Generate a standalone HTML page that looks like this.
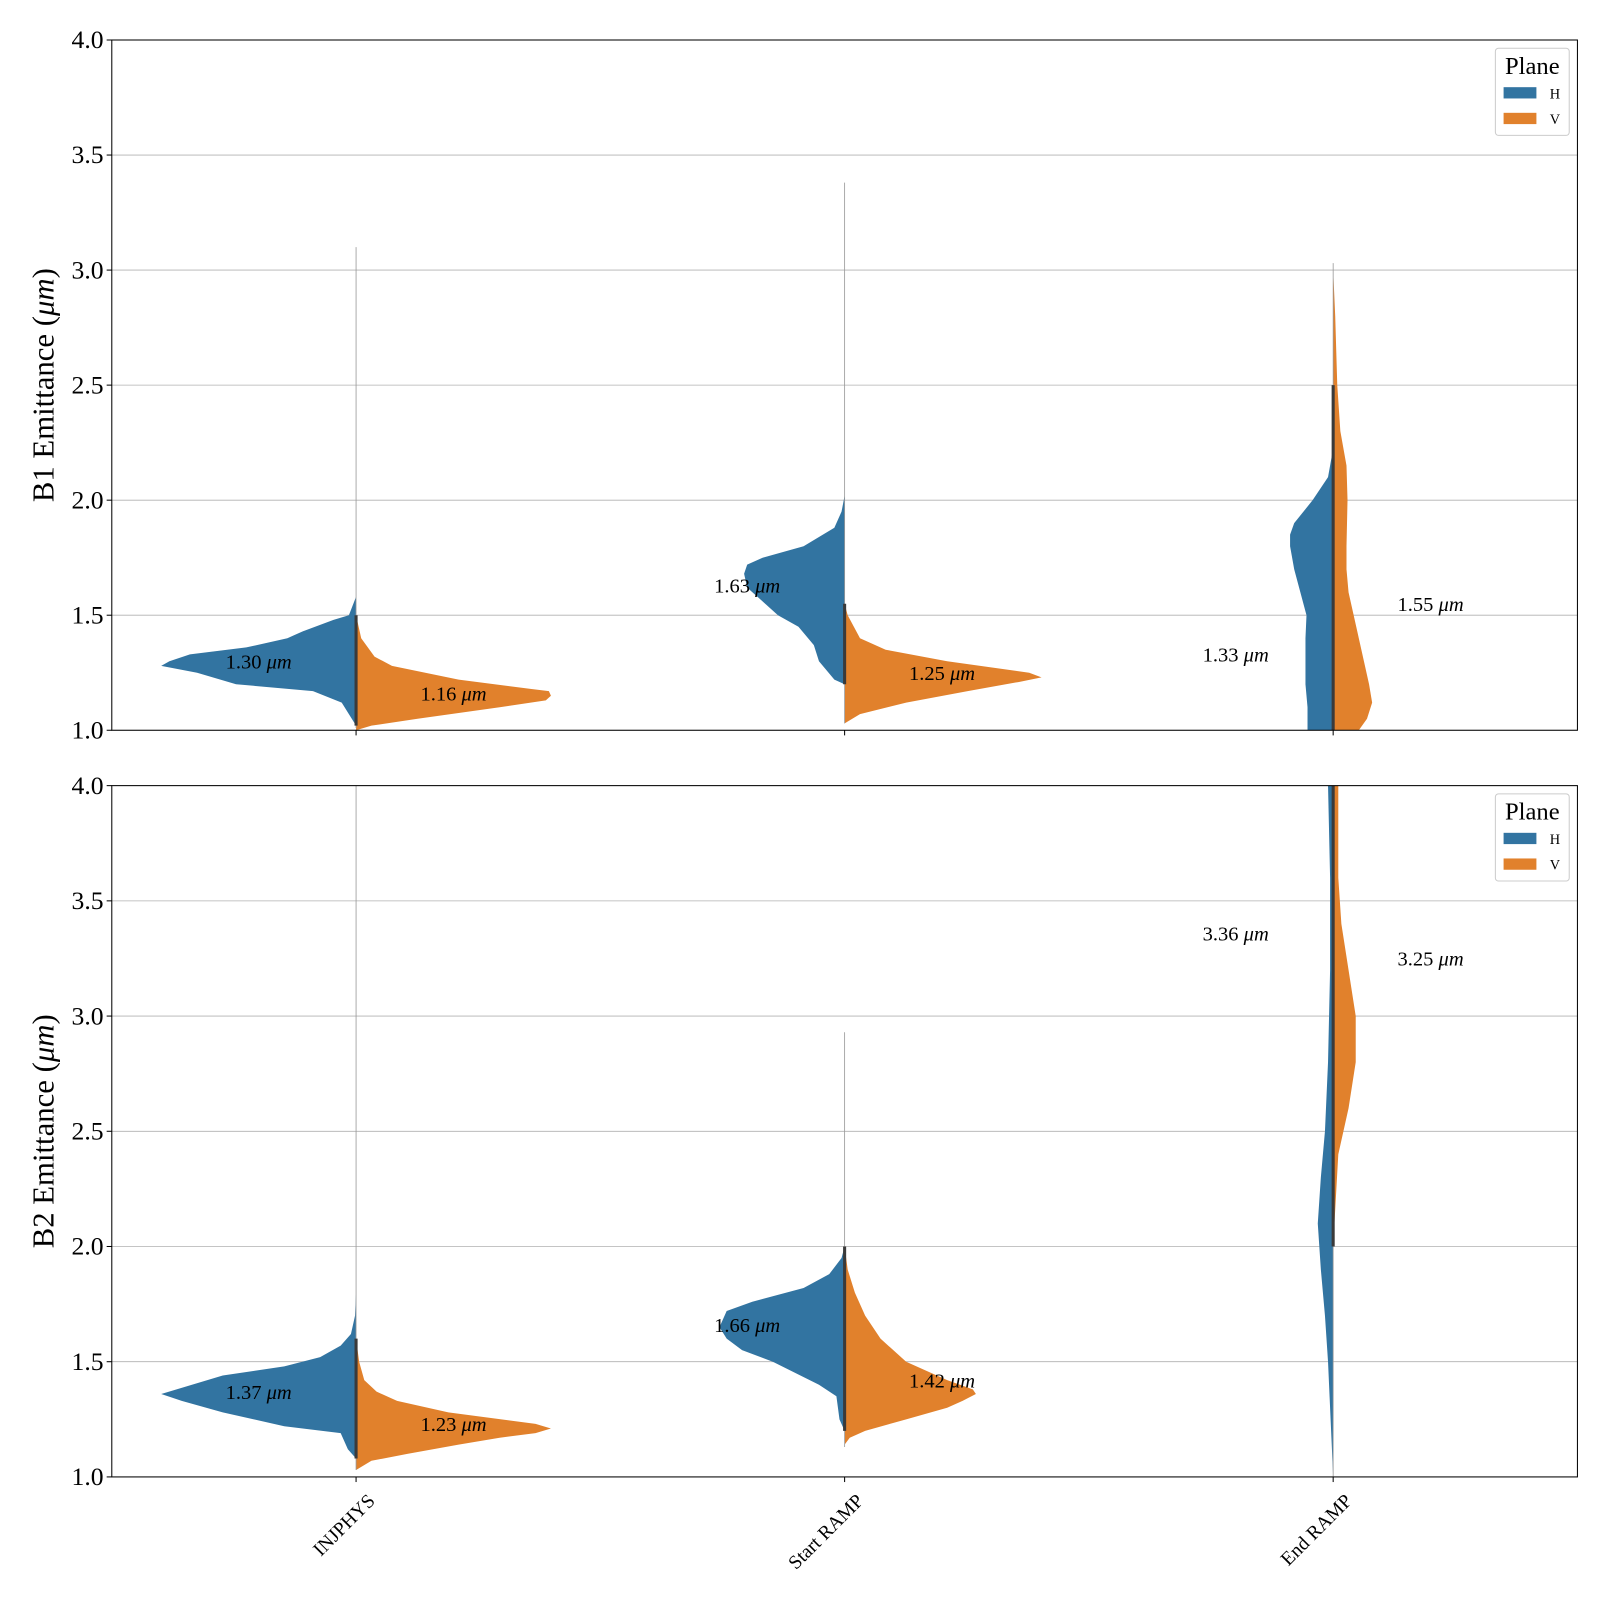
<!DOCTYPE html>
<html><head><meta charset="utf-8"><style>
body{margin:0;background:#fff}
text{font-family:"Liberation Serif",serif;fill:#000}
</style></head><body>
<svg width="1600" height="1600"><g id="c" transform="scale(1.02564)"></g></svg>
<script>
const categories=["INJPHYS","Start RAMP","End RAMP"];
const planes=["H","V"];
// violin profiles: [emittance, half-width(px density)]
const b1H=[[[1.02,0],[1.12,14],[1.17,42],[1.2,117],[1.25,155],[1.28,190],[1.3,182],[1.33,162],[1.36,107],[1.4,67],[1.43,52],[1.48,22],[1.5,7],[1.58,0]],
 [[1.2,0],[1.22,10],[1.3,25],[1.37,30],[1.45,45],[1.5,65],[1.58,85],[1.62,95],[1.68,98],[1.72,95],[1.75,80],[1.8,40],[1.88,10],[1.95,3],[2.02,0]],
 [[1.0,25],[1.1,25],[1.2,27],[1.3,27],[1.4,27],[1.5,26],[1.6,32],[1.7,38],[1.8,42],[1.85,42],[1.9,38],[2.0,20],[2.1,5],[2.2,1],[2.5,0]]];
const b1V=[[[1.0,0],[1.02,15],[1.05,60],[1.1,140],[1.13,185],[1.15,190],[1.17,188],[1.18,170],[1.22,100],[1.28,35],[1.32,18],[1.4,5],[1.5,0]],
 [[1.03,0],[1.07,15],[1.12,60],[1.17,120],[1.21,170],[1.23,192],[1.25,180],[1.3,100],[1.35,40],[1.4,15],[1.5,3],[1.55,0]],
 [[1.0,25],[1.05,33],[1.12,38],[1.2,35],[1.3,30],[1.4,25],[1.5,20],[1.6,15],[1.7,13],[1.8,13],[2.0,14],[2.15,13],[2.3,7],[2.5,4],[2.8,2],[3.0,0]]];
const b2H=[[[1.08,0],[1.12,8],[1.19,15],[1.22,70],[1.28,130],[1.33,170],[1.36,190],[1.4,160],[1.44,130],[1.48,70],[1.52,35],[1.57,15],[1.62,5],[1.7,1],[1.8,0]],
 [[1.2,0],[1.25,5],[1.35,8],[1.4,25],[1.5,70],[1.55,100],[1.6,115],[1.65,122],[1.72,115],[1.76,90],[1.82,40],[1.88,15],[1.95,3],[2.0,0]],
 [[1.0,0],[1.5,5],[1.7,8],[1.9,12],[2.1,15],[2.3,12],[2.5,8],[2.8,5],[3.2,3],[3.6,3],[4.0,5]]];
const b2V=[[[1.03,0],[1.07,15],[1.1,50],[1.14,100],[1.17,140],[1.19,175],[1.21,190],[1.23,175],[1.28,90],[1.33,40],[1.37,20],[1.42,8],[1.5,3],[1.6,0]],
 [[1.14,0],[1.17,5],[1.2,20],[1.25,60],[1.3,100],[1.33,115],[1.36,128],[1.38,125],[1.42,100],[1.5,60],[1.6,35],[1.7,20],[1.8,10],[1.9,3],[2.0,0]],
 [[2.0,0],[2.4,5],[2.6,15],[2.8,22],[3.0,22],[3.2,15],[3.4,8],[3.6,5],[3.8,5],[4.0,5]]];
const b1Max=[3.1,3.38,3.03], b2Max=[4.0,2.93,4.0];
const b1Min=[1.01,1.03,1.0], b2Min=[1.03,1.13,1.0];
const b1MeanH=[1.30,1.63,1.33], b1MeanV=[1.16,1.25,1.55];
const b2MeanH=[1.37,1.66,3.36], b2MeanV=[1.23,1.42,3.25];
const yTicks=[1.0,1.5,2.0,2.5,3.0,3.5,4.0];

const svg=document.getElementById('c'),NS="http://www.w3.org/2000/svg";
function mk(t,a,p){const e=document.createElementNS(NS,t);for(const k in a)e.setAttribute(k,a[k]);(p||svg).appendChild(e);return e;}
const X0=109,X1=1538,band=(X1-X0)/3;
const xS=i=>X0+(i+0.5)*band;
const cols={H:"#3274a1",V:"#e1812c"};
function panel(top,bot,H,V,maxs,mins,mH,mV,label,pi){
 const yS=v=>bot-(v-1)/3*(bot-top);
 const g=mk('g',{});
 
 
 const cid='clip'+pi;
 const cp=mk('clipPath',{id:cid},g);mk('rect',{x:X0,y:top,width:X1-X0,height:bot-top},cp);
 yTicks.forEach(t=>{
  const l=mk('line',{x1:X0,x2:X1,y1:yS(t),y2:yS(t),stroke:"#b0b0b0","stroke-width":0.8},g);
  
  mk('line',{x1:X0-5,x2:X0,y1:yS(t),y2:yS(t),stroke:"#000"},g);
  const tx=mk('text',{x:X0-8,y:yS(t)+8,"text-anchor":"end","font-size":25},g);tx.textContent=t.toFixed(1);
  
 });
 const vg=mk('g',{"clip-path":`url(#${cid})`},g);
 categories.forEach((c,i)=>{
  const cx=xS(i);
  [["H",H[i],-1],["V",V[i],1]].forEach(([p,prof,s])=>{
   let d=`M${cx},${yS(prof[0][0])}`;
   prof.forEach(([v,w])=>d+=`L${cx+s*w},${yS(v)}`);
   d+=`L${cx},${yS(prof[prof.length-1][0])}Z`;
   const e=mk('path',{d,fill:cols[p]},vg);
   
   
  });
  const st=mk('line',{x1:cx,x2:cx,y1:yS(maxs[i]),y2:yS(mins[i]),stroke:"#999","stroke-width":0.8},vg);
  
  const lo=Math.max(H[i][0][0],V[i][0][0],mins[i]);
  const th=mk('line',{x1:cx,x2:cx,y1:yS(Math.min(H[i][H[i].length-1][0],V[i][V[i].length-1][0])),y2:yS(lo),stroke:"#3a3a3a","stroke-width":3},vg);
  
  mk('line',{x1:cx,x2:cx,y1:bot,y2:bot+5,stroke:"#000"},g);
  const a=mk('text',{x:cx-95,y:yS(mH[i])+7,"text-anchor":"middle","font-size":20},g);
  a.innerHTML=mH[i].toFixed(2)+' <tspan font-style="italic">μm</tspan>';
  
  const b=mk('text',{x:cx+95,y:yS(mV[i])+7,"text-anchor":"middle","font-size":20},g);
  b.innerHTML=mV[i].toFixed(2)+' <tspan font-style="italic">μm</tspan>';
  
 });
 const fr=mk('rect',{x:X0,y:top,width:X1-X0,height:bot-top,fill:"none",stroke:"#000","stroke-width":1},g);
 
 const yl=mk('text',{transform:`translate(52,${(top+bot)/2}) rotate(-90)`,"text-anchor":"middle","font-size":30},g);
 yl.innerHTML=label+' (<tspan font-style="italic">μm</tspan>)';
 
 const lg=mk('g',{},g);
 mk('rect',{x:1458,y:top+8,width:72,height:85,fill:"#fff",stroke:"#ccc",rx:3},lg);
 const lt=mk('text',{x:1494,y:top+33,"text-anchor":"middle","font-size":24},lg);lt.textContent="Plane";
 planes.forEach((p,j)=>{
  const r=mk('rect',{x:1466,y:top+46+j*25,width:32,height:11,fill:cols[p]},lg);
  
  const t=mk('text',{x:1511,y:top+57+j*25,"font-size":14},lg);t.textContent=p;
 });
}
panel(39,712,b1H,b1V,b1Max,b1Min,b1MeanH,b1MeanV,"B1 Emittance",1);
panel(766,1440,b2H,b2V,b2Max,b2Min,b2MeanH,b2MeanV,"B2 Emittance",2);
categories.forEach((c,i)=>{
 const t=mk('text',{transform:`translate(${xS(i)+10},${1455}) rotate(-45)`,"text-anchor":"end","font-size":19,dy:"0.7em"});
 t.textContent=c;
 
});
</script>
</body></html>
